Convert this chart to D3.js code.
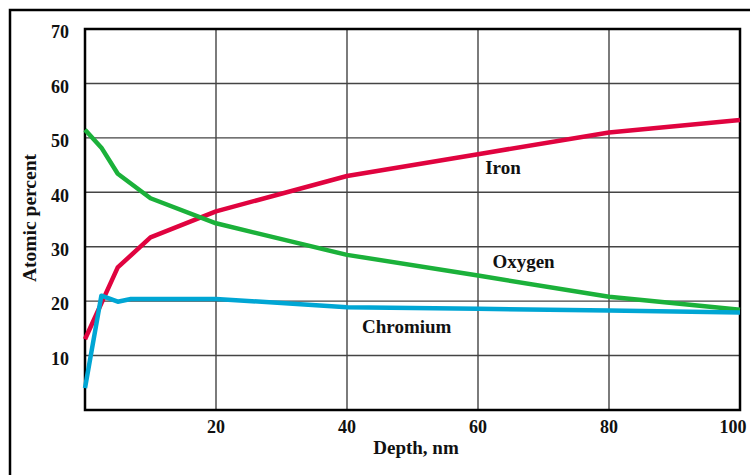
<!DOCTYPE html>
<html>
<head>
<meta charset="utf-8">
<script src="https://cdn.jsdelivr.net/npm/d3@7"></script>
<style>
  body { margin: 0; background: #fff; }
  text { font-family: "Liberation Serif", "Times New Roman", serif; font-weight: bold; fill: #111; }
</style>
</head>
<body>
<div id="chart"></div>
<script>
// Depth (nm) and atomic percent read from the profile
var ironDepth = [0, 5, 10, 20, 40, 60, 80, 100];
var ironValue = [13, 26.2, 31.7, 36.5, 43, 47, 51, 53.3];

var oxygenDepth = [0, 2.5, 5, 10, 20, 40, 60, 80, 100];
var oxygenValue = [51.5, 48.2, 43.4, 38.9, 34.3, 28.5, 24.7, 20.8, 18.4];

var chromiumDepth = [0, 2.5, 5, 7, 20, 40, 60, 80, 100];
var chromiumValue = [4, 21, 19.9, 20.4, 20.4, 18.9, 18.6, 18.3, 17.9];

var xTicks = [20, 40, 60, 80, 100];
var yTicks = [10, 20, 30, 40, 50, 60, 70];

var seriesNames = ["Iron", "Oxygen", "Chromium"];
var seriesColors = ["#e0033f", "#1bb13a", "#00a6d4"];

var width = 750, height = 475;
var margin = {top: 29, right: 10, bottom: 65, left: 85};

var svg = d3.select("#chart").append("svg")
    .attr("width", width)
    .attr("height", height);

//outer frame
svg.append("rect")
    .attr("x", 10).attr("y", 10)
    .attr("width", 800).attr("height", 500)
    .attr("fill", "none")
    .attr("stroke", "#000")
    .attr("stroke-width", 2.5);

var x = d3.scaleLinear().domain([0, 100]).range([margin.left, width - margin.right]);
var y = d3.scaleLinear().domain([0, 70]).range([height - margin.bottom, margin.top]);

var g = svg.append("g");

//grid
g.selectAll(".vgrid")
    .data(xTicks.slice(0, -1))
    .enter().append("line")
    .attr("x1", function(d) { return x(d); })
    .attr("x2", function(d) { return x(d); })
    .attr("y1", y(0)).attr("y2", y(70))
    .attr("stroke", "#444").attr("stroke-width", 1.4);

g.selectAll(".hgrid")
    .data(yTicks.slice(0, -1))
    .enter().append("line")
    .attr("x1", x(0)).attr("x2", x(100))
    .attr("y1", function(d) { return y(d); })
    .attr("y2", function(d) { return y(d); })
    .attr("stroke", "#444").attr("stroke-width", 1.4);

//plot frame
g.append("rect")
    .attr("x", x(0)).attr("y", y(70))
    .attr("width", x(100) - x(0))
    .attr("height", y(0) - y(70))
    .attr("fill", "none")
    .attr("stroke", "#000")
    .attr("stroke-width", 2.5);

//tick labels
g.selectAll(".xlab")
    .data(xTicks)
    .enter().append("text")
    .attr("x", function(d) { return d == 100 ? x(d) - 7 : x(d); })
    .attr("y", 433)
    .attr("text-anchor", "middle")
    .style("font-size", "18px")
    .text(function(d) { return d; });

g.selectAll(".ylab")
    .data(yTicks)
    .enter().append("text")
    .attr("x", 69)
    .attr("y", function(d) { return y(d) + 3; })
    .attr("dy", "0.35em")
    .attr("text-anchor", "end")
    .style("font-size", "18px")
    .text(function(d) { return d; });

//axis titles
svg.append("text")
    .attr("x", 416)
    .attr("y", 454)
    .attr("text-anchor", "middle")
    .style("font-size", "19px")
    .text("Depth, nm");

svg.append("text")
    .attr("transform", "translate(36,218) rotate(-90)")
    .attr("text-anchor", "middle")
    .style("font-size", "19.5px")
    .text("Atomic percent");

//lines
var line = d3.line()
    .x(function(d) { return x(d[0]); })
    .y(function(d) { return y(d[1]); });

var series = [
    d3.zip(ironDepth, ironValue),
    d3.zip(oxygenDepth, oxygenValue),
    d3.zip(chromiumDepth, chromiumValue)
];

g.selectAll(".series")
    .data(series)
    .enter().append("path")
    .attr("d", line)
    .attr("fill", "none")
    .attr("stroke", function(d, i) { return seriesColors[i]; })
    .attr("stroke-width", 4.5)
    .attr("stroke-linejoin", "round");

//series labels
var labelPos = [[61.1, 174], [62.2, 268], [42.3, 333]];
g.selectAll(".slab")
    .data(seriesNames)
    .enter().append("text")
    .attr("x", function(d, i) { return x(labelPos[i][0]); })
    .attr("y", function(d, i) { return labelPos[i][1]; })
    .style("font-size", "19px")
    .text(function(d) { return d; });
</script>
</body>
</html>
